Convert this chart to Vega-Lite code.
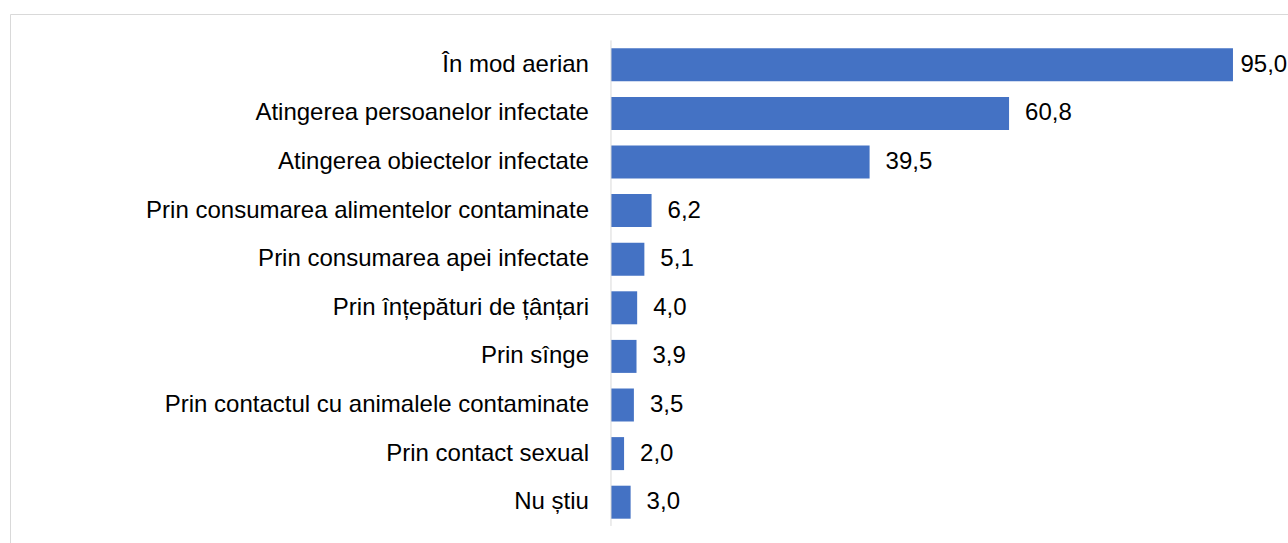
{
  "$schema": "https://vega.github.io/schema/vega-lite/v6.json",
  "autosize": {"type": "fit", "contains": "padding"},
  "width": 1288,
  "height": 543,
  "padding": {"left": 10, "top": 14, "right": -2, "bottom": -2},
  "config": {
    "view": {"stroke": "#d9d9d9", "strokeWidth": 1},
    "locale": {"number": {"decimal": ",", "thousands": ".", "grouping": [3], "currency": ["", ""]}},
    "font": "Liberation Sans"
  },
  "data": {
    "values": [
      {"cat": "În mod aerian", "value": 95.0},
      {"cat": "Atingerea persoanelor infectate", "value": 60.8},
      {"cat": "Atingerea obiectelor infectate", "value": 39.5},
      {"cat": "Prin consumarea alimentelor contaminate", "value": 6.2},
      {"cat": "Prin consumarea apei infectate", "value": 5.1},
      {"cat": "Prin înțepături de țânțari", "value": 4.0},
      {"cat": "Prin sînge", "value": 3.9},
      {"cat": "Prin contactul cu animalele contaminate", "value": 3.5},
      {"cat": "Prin contact sexual", "value": 2.0},
      {"cat": "Nu știu", "value": 3.0}
    ]
  },
  "encoding": {
    "y": {
      "field": "cat",
      "type": "nominal",
      "sort": null,
      "axis": null,
      "scale": {"paddingInner": 0.321, "paddingOuter": 0.6235, "align": 0.566}
    }
  },
  "layer": [
    {
      "mark": {"type": "bar", "color": "#4472C4"},
      "encoding": {
        "x": {
          "field": "value",
          "type": "quantitative",
          "axis": null,
          "scale": {"domain": [-91.79, 103.71], "nice": false, "zero": false}
        }
      }
    },
    {
      "transform": [{"filter": "datum.value < 90"}],
      "mark": {"type": "text", "align": "left", "baseline": "middle", "dx": 16, "fontSize": 24, "color": "#000000"},
      "encoding": {
        "x": {"field": "value", "type": "quantitative"},
        "text": {"field": "value", "type": "quantitative", "format": ".1f"}
      }
    },
    {
      "transform": [{"filter": "datum.value >= 90"}],
      "mark": {"type": "text", "align": "left", "baseline": "middle", "dx": 7.5, "fontSize": 24, "color": "#000000"},
      "encoding": {
        "x": {"field": "value", "type": "quantitative"},
        "text": {"field": "value", "type": "quantitative", "format": ".1f"}
      }
    },
    {
      "mark": {"type": "text", "align": "right", "baseline": "middle", "dx": -22, "fontSize": 24, "color": "#000000"},
      "encoding": {
        "x": {"datum": 0, "type": "quantitative"},
        "text": {"field": "cat", "type": "nominal"}
      }
    },
    {
      "data": {"values": [{"first": "În mod aerian", "last": "Nu știu"}]},
      "mark": {"type": "rule", "color": "#d9d9d9", "strokeWidth": 1},
      "encoding": {
        "x": {"datum": 0, "type": "quantitative"},
        "y": {"field": "first", "type": "nominal", "bandPosition": -0.24},
        "y2": {"field": "last", "bandPosition": 1.22}
      }
    }
  ]
}
